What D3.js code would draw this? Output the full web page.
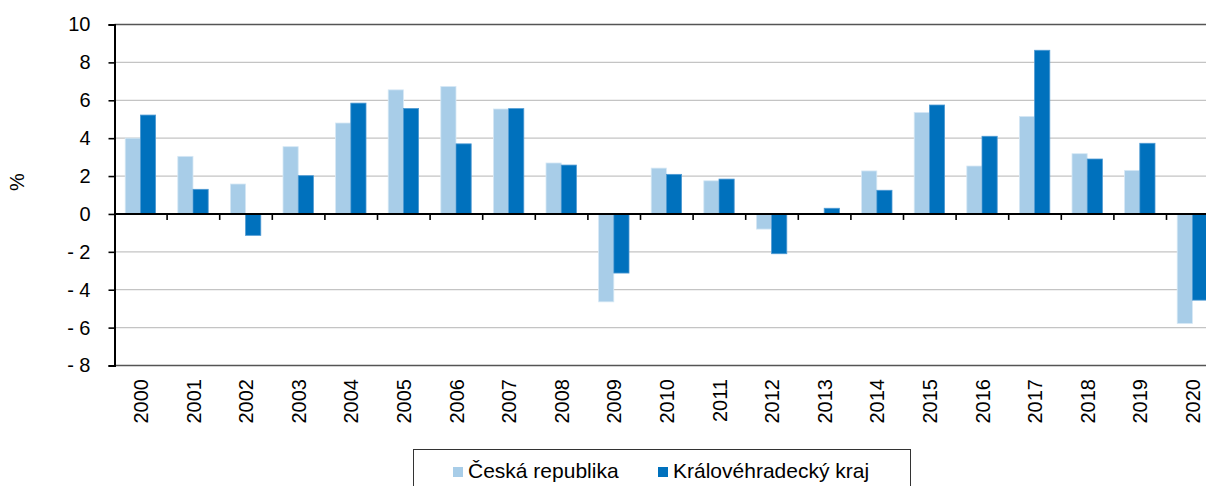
<!DOCTYPE html>
<html>
<head>
<meta charset="utf-8">
<script src="https://cdn.jsdelivr.net/npm/d3@7"></script>
<style>
  body { margin: 0; background: #fff; }
  text { font-family: "Liberation Sans", Arial, sans-serif; fill: #000; }
</style>
</head>
<body>
<div id="vis"></div>
<script>
// years on the x axis
var years = ["2000","2001","2002","2003","2004","2005","2006","2007","2008","2009","2010",
             "2011","2012","2013","2014","2015","2016","2017","2018","2019","2020"];

// series values (%)
var ceskaRepublika = [4.0, 3.04, 1.58, 3.55, 4.8, 6.55, 6.73, 5.54, 2.69, -4.64, 2.42,
                      1.75, -0.8, 0.0, 2.27, 5.36, 2.53, 5.15, 3.18, 2.3, -5.78];
var kralovehradecky = [5.22, 1.3, -1.13, 2.02, 5.85, 5.57, 3.7, 5.56, 2.58, -3.12, 2.09,
                       1.84, -2.1, 0.3, 1.25, 5.75, 4.1, 8.64, 2.9, 3.73, -4.55];

var seriesNames = ["Česká republika", "Královéhradecký kraj"];
var yTicks = [10, 8, 6, 4, 2, 0, -2, -4, -6, -8];

var colors = ["#a8cde8", "#0071bd"];
var strokes = ["#d6e8f5", "#4f9ad3"];

var W = 1206, H = 486;
var plot = { left: 114.5, top: 24.5, bottom: 365.5, step: 52.6 };

var svg = d3.select('#vis')
  .append('svg')
  .attr('width', W)
  .attr('height', H);

var y = d3.scaleLinear()
  .domain([-8, 10])
  .range([plot.bottom, plot.top]);

var x = d3.scaleBand()
  .domain(years)
  .range([plot.left, plot.left + plot.step * years.length]);

var x1 = d3.scaleBand()
  .domain([0, 1])
  .range([10.7, 41.1]);

var plotRight = plot.left + plot.step * years.length;

// gridlines
svg.append('g')
  .selectAll('line')
  .data(yTicks.filter(function(d){ return d !== 0 && d !== 10 && d !== -8; }))
  .join('line')
  .attr('x1', plot.left).attr('x2', plotRight)
  .attr('y1', function(d){ return y(d); })
  .attr('y2', function(d){ return y(d); })
  .attr('stroke', '#c4c4c4')
  .attr('stroke-width', 1.2);

// top and bottom frame lines
svg.append('g')
  .selectAll('line')
  .data([10, -8])
  .join('line')
  .attr('x1', plot.left).attr('x2', plotRight)
  .attr('y1', function(d){ return y(d); })
  .attr('y2', function(d){ return y(d); })
  .attr('stroke', '#555')
  .attr('stroke-width', 1.6);

// bars
var rows = years.map(function(yr, i){
  return { year: yr, vals: [ceskaRepublika[i], kralovehradecky[i]] };
});

svg.append('g')
  .selectAll('g')
  .data(rows)
  .join('g')
  .attr('transform', function(d){ return 'translate(' + x(d.year) + ',0)'; })
  .selectAll('rect')
  .data(function(d){ return d.vals.map(function(v, k){ return { k: k, v: v }; }); })
  .join('rect')
  .filter(function(d){ return d.v !== 0; })
  .attr('x', function(d){ return x1(d.k); })
  .attr('width', x1.bandwidth())
  .attr('y', function(d){ return y(Math.max(0, d.v)); })
  .attr('height', function(d){ return Math.abs(y(d.v) - y(0)); })
  .attr('fill', function(d){ return colors[d.k]; })
  .attr('stroke', function(d){ return strokes[d.k]; })
  .attr('stroke-width', 0.8);

// zero axis with ticks between categories
var xAxis = svg.append('g');
xAxis.append('line')
  .attr('x1', plot.left).attr('x2', plotRight)
  .attr('y1', y(0)).attr('y2', y(0))
  .attr('stroke', '#000')
  .attr('stroke-width', 2);
xAxis.selectAll('line.tick')
  .data(years.slice(1))
  .join('line')
  .attr('class', 'tick')
  .attr('x1', function(d){ return x(d); })
  .attr('x2', function(d){ return x(d); })
  .attr('y1', y(0)).attr('y2', y(0) + 6)
  .attr('stroke', '#000')
  .attr('stroke-width', 1.6);

// y axis
var yAxis = svg.append('g')
  .attr('transform', 'translate(' + plot.left + ',0)')
  .call(d3.axisLeft(y)
    .tickValues(yTicks)
    .tickSize(6)
    .tickPadding(18)
    .tickFormat(function(d){ return d < 0 ? '- ' + Math.abs(d) : String(d); }));
yAxis.select('.domain').attr('stroke', '#000').attr('stroke-width', 2);
yAxis.selectAll('.tick line').attr('stroke', '#000').attr('stroke-width', 1.6);
yAxis.selectAll('.tick text')
  .style('font-size', '20px')
  .attr('fill', '#000');

// y title
svg.append('text')
  .attr('transform', 'translate(17,182) rotate(-90)')
  .attr('text-anchor', 'middle')
  .attr('dy', '0.35em')
  .style('font-size', '20px')
  .text('%');

// x labels
svg.append('g')
  .selectAll('text')
  .data(years)
  .join('text')
  .attr('transform', function(d){
    return 'translate(' + (x(d) + x.bandwidth() / 2) + ',379) rotate(-90)';
  })
  .attr('text-anchor', 'end')
  .attr('dy', '0.36em')
  .style('font-size', '20px')
  .text(function(d){ return d; });

// legend
var legend = svg.append('g');
legend.append('rect')
  .attr('x', 413.5).attr('y', 449.5)
  .attr('width', 497).attr('height', 50)
  .attr('fill', 'none')
  .attr('stroke', '#333')
  .attr('stroke-width', 1);

var legX = [453, 658];
seriesNames.forEach(function(name, k){
  legend.append('rect')
    .attr('x', legX[k]).attr('y', 467)
    .attr('width', 10).attr('height', 10)
    .attr('fill', colors[k]);
  legend.append('text')
    .attr('x', legX[k] + 15).attr('y', 478)
    .style('font-size', '21px')
    .text(name);
});
</script>
</body>
</html>
